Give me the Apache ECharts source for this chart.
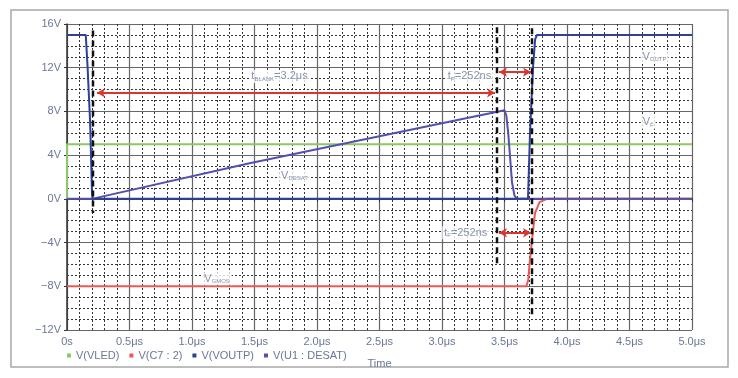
<!DOCTYPE html>
<html>
<head>
<meta charset="utf-8">
<script src="https://cdn.jsdelivr.net/npm/echarts@6/dist/echarts.min.js"></script>
<style>
  html, body { margin: 0; padding: 0; background: #fff; }
  #chart { width: 738px; height: 378px; }
</style>
</head>
<body>
<div id="chart"></div>
<script>
// waveform data, time in us, voltage in V
var vled = [[0, 0], [0, 5], [5, 5]];
var vc72 = [[0, -8], [3.675, -8], [3.69, -7.4], [3.70, -6], [3.72, -3.8], [3.744, -1.3], [3.78, -0.3], [3.84, 0], [5, 0]];
var vdesat = [[0, 0], [0.2, 0], [1.46, 3.25], [3.5, 8.1], [3.515, 7.6], [3.53, 6], [3.56, 1.5], [3.58, 0.3], [3.6, 0], [5, 0]];
var voutp = [[0, 15], [0.15, 15], [0.165, 12], [0.185, 7], [0.2, 0.5], [0.205, 0], [3.688, 0], [3.704, 6], [3.728, 12], [3.745, 14.6], [3.76, 15], [5, 15]];

// cursor lines: time, top, bottom
var cursors = [[0.208, 15.4, -1.3], [3.44, 15.7, -5.9], [3.72, 15.6, -10.9]];

// measurement arrows: start time, end time, level
var arrows = [[0.24, 3.424, 9.7], [3.456, 3.712, 11.6], [3.456, 3.712, -3.1]];

// annotation labels: time, level, text
var notes = [
    [1.7, 11.2, '{t|t}{s|BLANK}{t|=3.2μs}'],
    [3.22, 11.2, '{t|t}{s|P}{t|=252ns}'],
    [3.19, -3.1, '{t|t}{s|F}{t|=252ns}'],
    [4.7, 13, '{t|V}{s|OUTP}'],
    [4.65, 7, '{t|V}{s|F}'],
    [1.82, 2.1, '{t|V}{s|DESAT}'],
    [1.2, -7.3, '{t|V}{s|GMOS}']
];

var xTickLabels = ['0s', '0.5μs', '1.0μs', '1.5μs', '2.0μs', '2.5μs', '3.0μs', '3.5μs', '4.0μs', '4.5μs', '5.0μs'];
var yTickLabels = ['−12V', '−8V', '−4V', '0V', '4V', '8V', '12V', '16V'];

var names = ['V(VLED)', 'V(C7 : 2)', 'V(VOUTP)', 'V(U1 : DESAT)'];
var colors = ['#8cc864', '#ea5a55', '#2e3f9c', '#5450ad'];

var chart = echarts.init(document.getElementById('chart'));

var series = [
    { name: names[0], data: vled },
    { name: names[1], data: vc72 },
    { name: names[3], data: vdesat },
    { name: names[2], data: voutp }
].map(function (s) {
    var c = colors[names.indexOf(s.name)];
    return {
        name: s.name,
        type: 'line',
        data: s.data,
        symbol: 'none',
        smooth: false,
        color: c,
        lineStyle: { color: c, width: 2 },
        z: 3,
        animation: false
    };
});

// dashed cursors
cursors.forEach(function (c) {
    series.push({
        type: 'line',
        data: [[c[0], c[1]], [c[0], c[2]]],
        symbol: 'none',
        lineStyle: { color: '#111', width: 2.5, type: [6, 4] },
        z: 4,
        animation: false,
        silent: true
    });
});

// arrows
series.push({
    type: 'line',
    data: [],
    markLine: {
        silent: true,
        symbol: ['arrow', 'arrow'],
        symbolSize: [7, 8],
        label: { show: false },
        lineStyle: { color: '#d8362e', width: 2, type: 'solid' },
        data: arrows.map(function (a) {
            return [{ coord: [a[0], a[2]] }, { coord: [a[1], a[2]] }];
        })
    },
    z: 5,
    animation: false
});

// labels
series.push({
    type: 'scatter',
    symbolSize: 0,
    data: notes.map(function (n) { return { value: [n[0], n[1]], text: n[2] }; }),
    label: {
        show: true,
        position: 'inside',
        backgroundColor: '#fff',
        padding: [1, 2],
        formatter: function (p) { return p.data.text; },
        rich: {
            t: { fontSize: 11, color: '#6a7796', fontFamily: 'Liberation Sans' },
            s: { fontSize: 6, color: '#6a7796', fontFamily: 'Liberation Sans', verticalAlign: 'bottom', padding: [5, 0, 0, 0] }
        }
    },
    z: 6,
    animation: false,
    silent: true
});

chart.setOption({
    animation: false,
    graphic: [{
        type: 'rect',
        shape: { x: 11, y: 10, width: 717, height: 357 },
        style: { fill: 'none', stroke: '#a8a8a8', lineWidth: 1.5 },
        silent: true
    }],
    grid: { left: 67, right: 46, top: 24, bottom: 48 },
    legend: {
        data: names,
        left: 62,
        top: 345,
        icon: 'rect',
        itemWidth: 4,
        itemHeight: 4,
        itemGap: 10,
        textStyle: { fontSize: 11, color: '#6a7796', fontFamily: 'Liberation Sans' }
    },
    xAxis: {
        type: 'value',
        min: 0,
        max: 5,
        interval: 0.5,
        name: 'Time',
        nameLocation: 'middle',
        nameGap: 28,
        nameTextStyle: { fontSize: 11, color: '#6a7796', fontFamily: 'Liberation Sans' },
        axisLine: { show: true, lineStyle: { color: '#333', width: 1.5 } },
        axisTick: { show: true, length: 3, lineStyle: { color: '#333' } },
        axisLabel: {
            fontSize: 11, color: '#6a7796', fontFamily: 'Liberation Sans', margin: 6,
            formatter: function (v) { return xTickLabels[Math.round(v / 0.5)]; }
        },
        splitLine: { show: true, lineStyle: { color: '#666', width: 1.2 } },
        minorTick: { show: false, splitNumber: 5 },
        minorSplitLine: { show: true, lineStyle: { color: '#333', width: 1, type: [2, 2] } }
    },
    yAxis: {
        type: 'value',
        min: -12,
        max: 16,
        interval: 4,
        axisLine: { show: true, lineStyle: { color: '#333', width: 1.5 } },
        axisTick: { show: true, length: 3, lineStyle: { color: '#333' } },
        axisLabel: {
            fontSize: 11, color: '#6a7796', fontFamily: 'Liberation Sans', margin: 6,
            formatter: function (v) { return yTickLabels[Math.round((v + 12) / 4)]; }
        },
        splitLine: { show: true, lineStyle: { color: '#666', width: 1.2 } },
        minorTick: { show: false, splitNumber: 4 },
        minorSplitLine: { show: true, lineStyle: { color: '#333', width: 1, type: [2, 2] } }
    },
    series: series
});
</script>
</body>
</html>
